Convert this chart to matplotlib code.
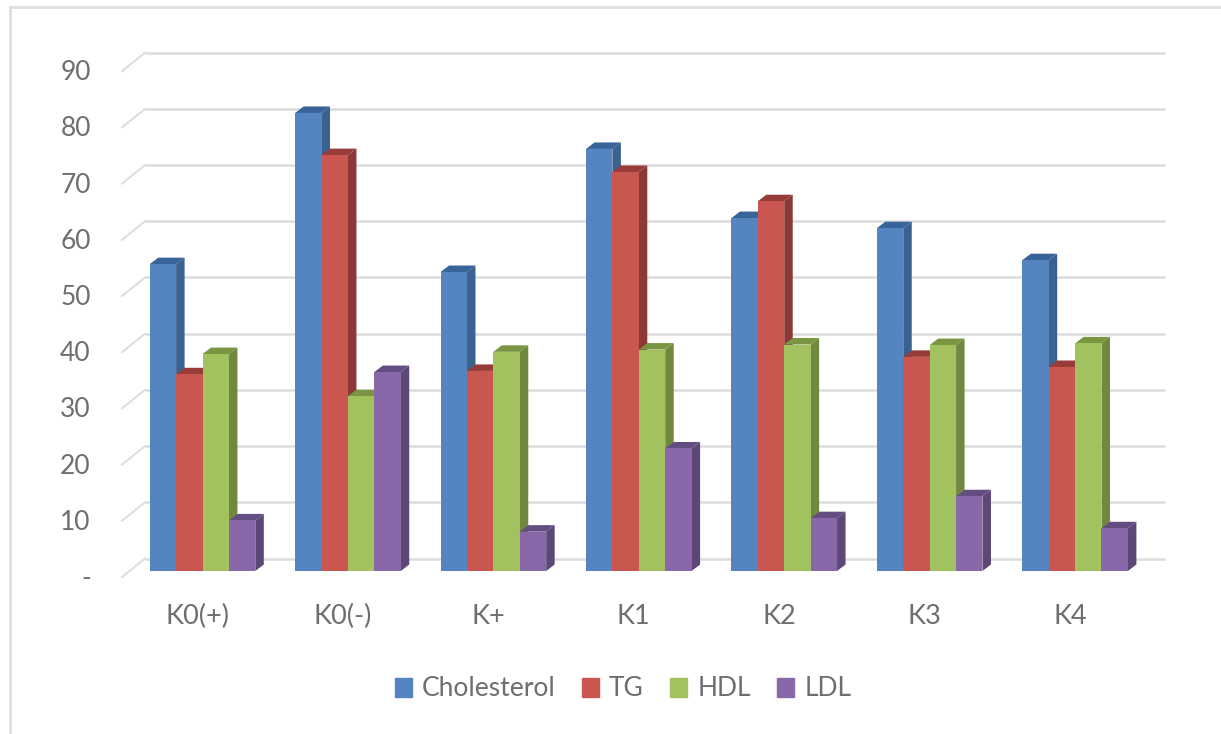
import numpy as np
import matplotlib
matplotlib.use('Agg')
import matplotlib.pyplot as plt
from matplotlib.patches import Polygon, Patch

plt.rcParams['font.family'] = ['Lato', 'DejaVu Sans']

categories = ['K0(+)', 'K0(-)', 'K+', 'K1', 'K2', 'K3', 'K4']
cholesterol = [54.6, 81.5, 53.2, 75.1, 62.8, 61.0, 55.3]
tg = [35.0, 74.0, 35.6, 71.0, 65.8, 38.1, 36.3]
hdl = [38.6, 31.1, 39.0, 39.4, 40.3, 40.2, 40.5]
ldl = [9.0, 35.4, 7.0, 21.8, 9.4, 13.3, 7.6]
y_ticks = [0, 10, 20, 30, 40, 50, 60, 70, 80, 90]
y_labels = ['-', '10', '20', '30', '40', '50', '60', '70', '80', '90']

series = [('Cholesterol', cholesterol, '#5585c0', '#3a6290', '#38649a'),
          ('TG', tg, '#c9564f', '#8c3836', '#983c39'),
          ('HDL', hdl, '#a2c15f', '#71893f', '#7a9642'),
          ('LDL', ldl, '#8868a8', '#5c4776', '#644d80')]

W, H = 1221, 734
text_col = '#6e6e6e'
grid_col = '#dcdcdc'

fig = plt.figure(figsize=(W / 100, H / 100), dpi=100)
ax = fig.add_axes([129.8 / W, 1 - 571 / H, 1018 / W, 505.8 / H])
ax.set_xlim(-0.5, 6.5)
ax.set_ylim(0, 90)
ax.axis('off')

# pixel to data scale
px_x = 7 / 1018
px_y = 90 / 505.8

# back wall gridlines and the slanted bit on the left
for v in y_ticks:
    back = v + 12.5 * px_y
    ax.plot([-0.5 + 15.2 * px_x, -0.5 + 1035 * px_x], [back, back], color=grid_col, lw=1.8,
            clip_on=False, zorder=1, solid_capstyle='butt')
    ax.plot([-0.5 - 7.8 * px_x, -0.5 + 15.2 * px_x], [v - 6 * px_y, back], color=grid_col, lw=1.4,
            clip_on=False, zorder=1)
    label = y_labels[y_ticks.index(v)]
    ax.text(-0.5 - 39 * px_x, v - 7.5 * px_y, label, ha='right', va='center', fontsize=19, color=text_col)

width = 26.4 * px_x
dx = 8.5 * px_x
dy = 6.5 * px_y
z = 2
for s, (name, values, front, side, top) in enumerate(series):
    x = np.arange(len(categories)) + (s - 2) * width
    for xi, v in zip(x, values):
        ax.add_patch(Polygon([(xi + width, 0), (xi + width + dx, dy), (xi + width + dx, v + dy), (xi + width, v)],
                             closed=True, fc=side, ec='none', zorder=z, clip_on=False))
        ax.add_patch(Polygon([(xi, v), (xi + dx, v + dy), (xi + width + dx, v + dy), (xi + width, v)],
                             closed=True, fc=top, ec='none', zorder=z, clip_on=False))
    ax.bar(x, values, width=width, align='edge', color=front, zorder=z + 1, clip_on=False)
    z += 2

for i, c in enumerate(categories):
    ax.text(i - 5 * px_x, -45 * px_y, c, ha='center', va='center', fontsize=19.5, color=text_col)

handles = [Patch(color=s[2], label=s[0]) for s in series]
fig.legend(handles=handles, loc='center', bbox_to_anchor=(623 / W, 1 - 689 / H), ncol=4, frameon=False,
           fontsize=19, labelcolor=text_col, handlelength=0.65, handleheight=0.75, handletextpad=0.38,
           columnspacing=1.0, borderpad=0)

# outer frame, only top and left show
fig.add_artist(plt.Line2D([9.5 / W, 9.5 / W], [0, 1 - 7 / H], color='#dedede', lw=2))
fig.add_artist(plt.Line2D([9.5 / W, 1], [1 - 7 / H, 1 - 7 / H], color='#dedede', lw=2))

fig.savefig('out.png', dpi=100)
